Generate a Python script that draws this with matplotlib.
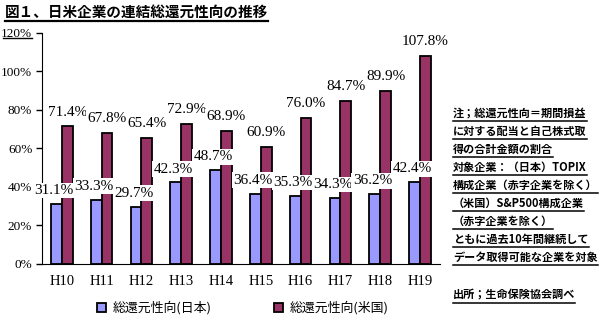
import matplotlib.pyplot as plt
import numpy as np
from matplotlib.lines import Line2D

plt.rcParams['font.family'] = ['Liberation Serif', 'Noto Sans CJK JP']

years = ['H10', 'H11', 'H12', 'H13', 'H14', 'H15', 'H16', 'H17', 'H18', 'H19']
japan = [31.1, 33.3, 29.7, 42.3, 48.7, 36.4, 35.3, 34.3, 36.2, 42.4]
usa = [71.4, 67.8, 65.4, 72.9, 68.9, 60.9, 76.0, 84.7, 89.9, 107.8]
yticks = [0, 20, 40, 60, 80, 100, 120]

title = '図１、日米企業の連結総還元性向の推移'
notes = ['注；総還元性向＝期間損益',
         'に対する配当と自己株式取',
         '得の合計金額の割合',
         '対象企業：（日本）TOPIX',
         '構成企業（赤字企業を除く）',
         '（米国）S&P500構成企業',
         '（赤字企業を除く）',
         'ともに過去10年間継続して',
         'データ取得可能な企業を対象']
source = '出所；生命保険協会調べ'

fig = plt.figure(figsize=(6, 3.23), dpi=100)
ax = fig.add_axes([0.07, 0.183, 0.663, 0.715])

x = np.arange(len(years))
w = 0.27
ax.bar(x - w / 2, japan, w, color='#9999FF', edgecolor='black', linewidth=1.3,
       label='総還元性向(日本)')
ax.bar(x + w / 2, usa, w, color='#993366', edgecolor='black', linewidth=1.3,
       label='総還元性向(米国)')

for i in range(len(years)):
    ax.text(x[i] - w / 2 - 0.06, japan[i] + 7, f'{japan[i]:.1f}%', ha='center', va='center',
            fontsize=11, bbox=dict(facecolor='white', edgecolor='none', pad=1))
    ax.text(x[i] + w / 2, usa[i] + 7.5, f'{usa[i]:.1f}%', ha='center', va='center',
            fontsize=11, bbox=dict(facecolor='white', edgecolor='none', pad=1))

ax.set_xlim(-0.5, len(years) - 0.5)
ax.set_ylim(0, 120)
ax.set_yticks(yticks)
ax.set_yticklabels([f'{v}%' for v in yticks], fontsize=9.5)
ax.set_xticks(x)
ax.set_xticklabels(years, fontsize=10.5)
ax.tick_params(axis='x', length=0, pad=8)
ax.tick_params(axis='y', length=4, width=1, direction='out', pad=3)
ax.spines['top'].set_visible(False)
ax.spines['right'].set_visible(False)

ax.legend(loc='upper center', bbox_to_anchor=(0.505, -0.11), ncol=2, frameon=False,
          handlelength=0.7, handleheight=0.7, handletextpad=0.5, columnspacing=4.8,
          prop={'family': 'Noto Sans CJK JP', 'size': 9.3})

title_txt = fig.text(0.008, 0.965, title, fontsize=10.5, fontweight='bold',
                     family='Noto Sans CJK JP', va='center', ha='left')

ys = [113, 131, 149, 167, 185, 203, 221, 239, 257]
texts = []
for s, yy in zip(notes, ys):
    texts.append(fig.text(453 / 600, 1 - yy / 323, s, fontsize=8, fontweight='bold',
                          family='Noto Sans CJK JP', va='center', ha='left'))
texts.append(fig.text(453 / 600, 1 - 295 / 323, source, fontsize=8, fontweight='bold',
                      family='Noto Sans CJK JP', va='center', ha='left'))

fig.canvas.draw()
r = fig.canvas.get_renderer()
for t in [title_txt] + texts:
    bb = t.get_window_extent(r).transformed(fig.transFigure.inverted())
    y0 = bb.y0 - 0.004
    fig.add_artist(Line2D([bb.x0, min(bb.x1, 1.0)], [y0, y0], color='black',
                          lw=1.6 if t is title_txt else 1.1, transform=fig.transFigure))
# short rule under the top tick label, as in the original
fig.add_artist(Line2D([3 / 600, 32 / 600], [1 - 38 / 323, 1 - 38 / 323], color='black',
                      lw=1, transform=fig.transFigure))

fig.savefig('out.png', dpi=100)
